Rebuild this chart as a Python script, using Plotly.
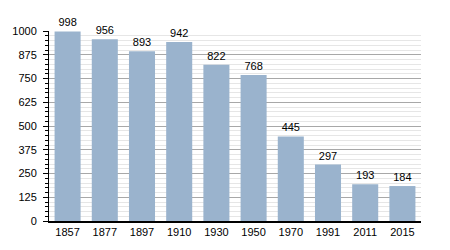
import plotly.graph_objects as go

years = ["1857", "1877", "1897", "1910", "1930", "1950", "1970", "1991", "2011", "2015"]
population = [998, 956, 893, 942, 822, 768, 445, 297, 193, 184]
y_ticks = [0, 125, 250, 375, 500, 625, 750, 875, 1000]

fig = go.Figure()
fig.add_trace(go.Bar(
    x=years, y=population,
    marker=dict(color="#9AB3CD", line=dict(width=0)),
    text=[str(v) for v in population], textposition="outside",
    textfont=dict(color="black", size=11, family="Liberation Sans"),
    cliponaxis=False,
    width=0.7,
))
fig.update_layout(
    width=450, height=250,
    margin=dict(l=49, r=29, t=31, b=29),
    paper_bgcolor="white", plot_bgcolor="white",
    showlegend=False,
    font=dict(family="Liberation Sans", size=11, color="black"),
    bargap=0.3,
)
fig.update_xaxes(
    type="category", showline=True, linecolor="black", linewidth=1.5,
    ticks="", showgrid=False, tickfont=dict(size=11),
)
fig.update_yaxes(
    range=[0, 1000], tickvals=y_ticks, showline=True, linecolor="black", linewidth=1,
    ticks="outside", ticklen=5, tickcolor="black", ticklabelstandoff=4,
    gridcolor="#A8A8A8", gridwidth=1, zeroline=False,
    minor=dict(dtick=25, showgrid=True, gridcolor="#E6E6E6", ticks="outside", ticklen=3, tickcolor="black"),
    tickfont=dict(size=11),
)
fig.write_html("out.html")
